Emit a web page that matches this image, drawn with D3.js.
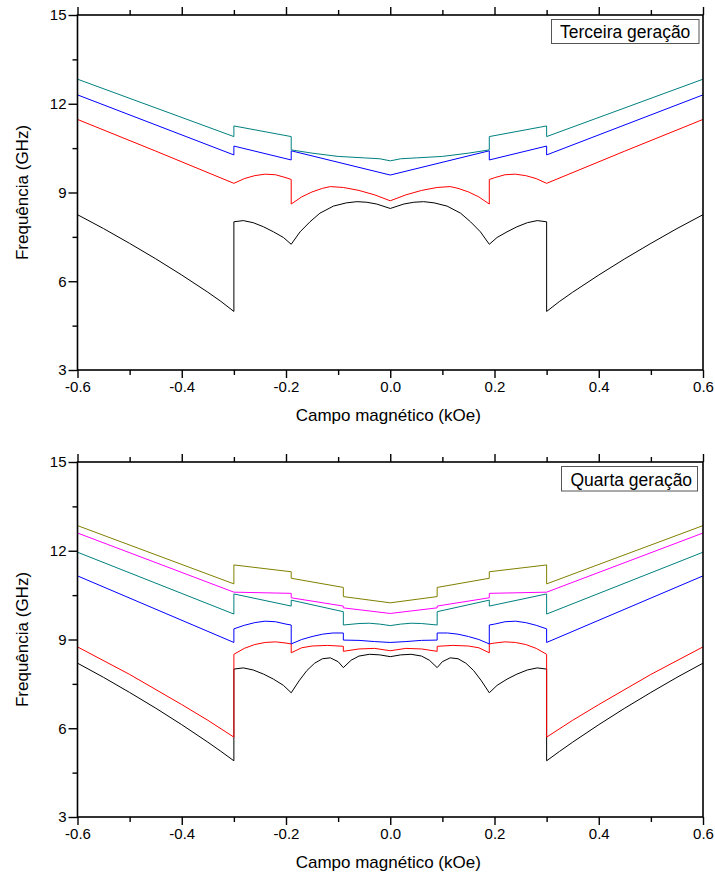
<!DOCTYPE html>
<html>
<head>
<meta charset="utf-8">
<script src="https://cdn.jsdelivr.net/npm/d3@7/dist/d3.min.js"></script>
<style>
  html, body { margin: 0; padding: 0; background: #fff; }
  svg { display: block; font-family: "Liberation Sans", Arial, sans-serif; }
</style>
</head>
<body>
<svg id="chart" width="715" height="875"></svg>
<script>
// ---------- data ----------
const xMajorTicks = [-0.6, -0.4, -0.2, 0, 0.2, 0.4, 0.6];
const xTickLabels = ["-0.6", "-0.4", "-0.2", "0.0", "0.2", "0.4", "0.6"];
const xMinorTicks = [-0.5, -0.3, -0.1, 0.1, 0.3, 0.5];
const yMajorTicks = [3, 6, 9, 12, 15];
const yTickLabels = ["3", "6", "9", "12", "15"];
const yMinorTicks = [4.5, 7.5, 10.5, 13.5];

const panelTitles = ["Terceira geração", "Quarta geração"];
const xTitle = "Campo magnético (kOe)";
const yTitle = "Frequência (GHz)";

// Terceira geração
const topBlack = [[-0.6,8.25],[-0.55,7.78],[-0.5,7.28],[-0.45,6.76],[-0.4,6.21],[-0.35,5.63],[-0.325,5.32],[-0.3,4.98],
  [-0.3,8.01],[-0.282,8.05],[-0.263,7.98],[-0.243,7.84],[-0.224,7.67],[-0.205,7.48],[-0.19,7.25],
  [-0.173,7.67],[-0.154,8.01],[-0.135,8.3],[-0.109,8.54],[-0.084,8.65],[-0.064,8.69],[-0.045,8.67],[-0.026,8.61],[0,8.46],
  [0.026,8.61],[0.045,8.67],[0.064,8.69],[0.084,8.65],[0.109,8.54],[0.135,8.3],[0.154,8.01],[0.173,7.67],
  [0.19,7.25],[0.205,7.48],[0.224,7.67],[0.243,7.84],[0.263,7.98],[0.282,8.05],[0.3,8.01],
  [0.3,4.98],[0.325,5.32],[0.35,5.63],[0.4,6.21],[0.45,6.76],[0.5,7.28],[0.55,7.78],[0.6,8.25]];
const topRed = [[-0.6,11.47],[-0.45,10.4],[-0.3,9.31],[-0.28,9.47],[-0.26,9.57],[-0.24,9.62],[-0.22,9.6],[-0.2,9.5],[-0.19,9.44],
  [-0.19,8.61],[-0.17,8.85],[-0.15,9.02],[-0.13,9.14],[-0.115,9.2],[-0.09,9.17],[-0.06,9.07],[-0.03,8.92],[0,8.72],
  [0.03,8.92],[0.06,9.07],[0.09,9.17],[0.115,9.2],[0.13,9.14],[0.15,9.02],[0.17,8.85],[0.19,8.61],
  [0.19,9.44],[0.2,9.5],[0.22,9.6],[0.24,9.62],[0.26,9.57],[0.28,9.47],[0.3,9.31],[0.45,10.4],[0.6,11.47]];
const topBlue = [[-0.6,12.3],[-0.3,10.27],[-0.3,10.57],[-0.19,10.1],[-0.19,10.41],[0,9.59],
  [0.19,10.41],[0.19,10.1],[0.3,10.57],[0.3,10.27],[0.6,12.3]];
const topTeal = [[-0.6,12.83],[-0.3,10.89],[-0.3,11.25],[-0.19,10.89],[-0.19,10.44],[-0.15,10.33],[-0.1,10.22],[-0.05,10.17],[-0.02,10.14],[0,10.07],
  [0.02,10.14],[0.05,10.17],[0.1,10.22],[0.15,10.33],[0.19,10.44],[0.19,10.89],[0.3,11.25],[0.3,10.89],[0.6,12.83]];

// Quarta geração
const botBlack = [[-0.6,8.2],[-0.55,7.72],[-0.5,7.21],[-0.45,6.68],[-0.4,6.12],[-0.35,5.53],[-0.325,5.22],[-0.3,4.9],
  [-0.3,8.0],[-0.282,8.04],[-0.263,7.97],[-0.243,7.83],[-0.224,7.66],[-0.205,7.45],[-0.19,7.2],
  [-0.175,7.6],[-0.16,7.95],[-0.145,8.2],[-0.13,8.35],[-0.115,8.38],[-0.1,8.25],[-0.09,8.05],
  [-0.075,8.3],[-0.06,8.44],[-0.04,8.5],[-0.02,8.48],[0,8.42],
  [0.02,8.48],[0.04,8.5],[0.06,8.44],[0.075,8.3],[0.09,8.05],[0.1,8.25],[0.115,8.38],[0.13,8.35],[0.145,8.2],[0.16,7.95],[0.175,7.6],
  [0.19,7.2],[0.205,7.45],[0.224,7.66],[0.243,7.83],[0.263,7.97],[0.282,8.04],[0.3,8.0],
  [0.3,4.9],[0.325,5.22],[0.35,5.53],[0.4,6.12],[0.45,6.68],[0.5,7.21],[0.55,7.72],[0.6,8.2]];
const botRed = [[-0.6,8.75],[-0.5,7.82],[-0.4,6.8],[-0.35,6.27],[-0.3,5.7],
  [-0.3,8.5],[-0.28,8.7],[-0.26,8.83],[-0.24,8.9],[-0.22,8.92],[-0.2,8.88],[-0.19,8.85],
  [-0.19,8.55],[-0.17,8.72],[-0.15,8.78],[-0.12,8.8],[-0.09,8.77],[-0.09,8.6],[-0.06,8.68],[-0.03,8.7],[0,8.62],
  [0.03,8.7],[0.06,8.68],[0.09,8.6],[0.09,8.77],[0.12,8.8],[0.15,8.78],[0.17,8.72],[0.19,8.55],
  [0.19,8.85],[0.2,8.88],[0.22,8.92],[0.24,8.9],[0.26,8.83],[0.28,8.7],[0.3,8.5],
  [0.3,5.7],[0.35,6.27],[0.4,6.8],[0.5,7.82],[0.6,8.75]];
const botBlue = [[-0.6,11.15],[-0.3,8.9],[-0.3,9.36],[-0.28,9.48],[-0.26,9.57],[-0.24,9.62],[-0.22,9.6],[-0.2,9.52],[-0.19,9.49],
  [-0.19,8.85],[-0.17,9.0],[-0.15,9.1],[-0.13,9.18],[-0.11,9.22],[-0.09,9.22],[-0.09,8.98],[-0.06,8.97],[-0.03,8.93],[0,8.9],
  [0.03,8.93],[0.06,8.97],[0.09,8.98],[0.09,9.22],[0.11,9.22],[0.13,9.18],[0.15,9.1],[0.17,9.0],[0.19,8.85],
  [0.19,9.49],[0.2,9.52],[0.22,9.6],[0.24,9.62],[0.26,9.57],[0.28,9.48],[0.3,9.36],[0.3,8.9],[0.6,11.15]];
const botTeal = [[-0.6,11.95],[-0.3,9.86],[-0.3,10.54],[-0.19,10.13],[-0.19,10.33],[-0.09,9.94],[-0.09,9.49],[-0.06,9.54],[-0.04,9.55],[-0.02,9.52],[0,9.47],
  [0.02,9.52],[0.04,9.55],[0.06,9.54],[0.09,9.49],[0.09,9.94],[0.19,10.33],[0.19,10.13],[0.3,10.54],[0.3,9.86],[0.6,11.95]];
const botMagenta = [[-0.6,12.6],[-0.3,10.6],[-0.19,10.56],[-0.19,10.41],[-0.09,10.13],[-0.09,10.07],[0,9.88],
  [0.09,10.07],[0.09,10.13],[0.19,10.41],[0.19,10.56],[0.3,10.6],[0.6,12.6]];
const botOlive = [[-0.6,12.85],[-0.3,10.88],[-0.3,11.52],[-0.19,11.29],[-0.19,11.07],[-0.09,10.76],[-0.09,10.45],[0,10.24],
  [0.09,10.45],[0.09,10.76],[0.19,11.07],[0.19,11.29],[0.3,11.52],[0.3,10.88],[0.6,12.85]];

const topSeries = [topBlack, topRed, topBlue, topTeal];
const topColors = ["#000000", "#ff0000", "#0000ff", "#008080"];
const botSeries = [botBlack, botRed, botBlue, botTeal, botMagenta, botOlive];
const botColors = ["#000000", "#ff0000", "#0000ff", "#008080", "#ff00ff", "#808000"];

// ---------- drawing ----------
const svg = d3.select("#chart");
const left = 77.5, right = 703;

const panels = [
  { top: 15, bottom: 370, series: topSeries, colors: topColors, title: panelTitles[0],
    box: [551.5, 19.5, 147.5, 24], textX: 560, textY: 38 },
  { top: 462, bottom: 817, series: botSeries, colors: botColors, title: panelTitles[1],
    box: [561.5, 466.5, 136, 24.5], textX: 570.5, textY: 485.5 }
];

panels.forEach(p => {
  const x = d3.scaleLinear().domain([-0.6, 0.6]).range([left, right]);
  const y = d3.scaleLinear().domain([3, 15]).range([p.bottom, p.top]);
  const g = svg.append("g");

  // lines
  const line = d3.line().x(d => x(d[0])).y(d => y(d[1]));
  p.series.forEach((s, i) => {
    g.append("path").datum(s)
      .attr("d", line)
      .attr("fill", "none")
      .attr("stroke", p.colors[i])
      .attr("stroke-width", 1)
      .attr("stroke-linejoin", "miter");
  });

  // frame
  g.append("rect")
    .attr("x", left).attr("y", p.top)
    .attr("width", right - left).attr("height", p.bottom - p.top)
    .attr("fill", "none").attr("stroke", "#000").attr("stroke-width", 1.6);

  const styleAxis = sel => {
    sel.select(".domain").remove();
    sel.selectAll(".tick line").attr("stroke", "#000").attr("stroke-width", 1.4);
    sel.selectAll(".tick text").attr("fill", "#000")
      .style("font-family", "'Liberation Sans', Arial, sans-serif")
      .style("font-size", "15px");
  };

  // bottom axis
  g.append("g").attr("transform", `translate(0,${p.bottom})`)
    .call(d3.axisBottom(x).tickValues(xMajorTicks).tickSize(8).tickPadding(3)
      .tickFormat((d, i) => xTickLabels[i]))
    .call(styleAxis);
  g.append("g").attr("transform", `translate(0,${p.bottom})`)
    .call(d3.axisBottom(x).tickValues(xMinorTicks).tickSize(5).tickFormat(""))
    .call(styleAxis);
  // top axis
  g.append("g").attr("transform", `translate(0,${p.top})`)
    .call(d3.axisTop(x).tickValues(xMajorTicks).tickSize(8).tickFormat(""))
    .call(styleAxis);
  g.append("g").attr("transform", `translate(0,${p.top})`)
    .call(d3.axisTop(x).tickValues(xMinorTicks).tickSize(5).tickFormat(""))
    .call(styleAxis);
  // left axis
  g.append("g").attr("transform", `translate(${left},0)`)
    .call(d3.axisLeft(y).tickValues(yMajorTicks).tickSize(9).tickPadding(2)
      .tickFormat((d, i) => yTickLabels[i]))
    .call(styleAxis);
  g.append("g").attr("transform", `translate(${left},0)`)
    .call(d3.axisLeft(y).tickValues(yMinorTicks).tickSize(5).tickFormat(""))
    .call(styleAxis);

  // axis titles
  g.append("text")
    .attr("x", (left + right) / 2 - 2).attr("y", p.bottom + 51)
    .attr("text-anchor", "middle")
    .style("font-size", "17px")
    .text(xTitle);
  g.append("text")
    .attr("transform", `translate(28,${(p.top + p.bottom) / 2}) rotate(-90)`)
    .attr("text-anchor", "middle")
    .style("font-size", "17px")
    .text(yTitle);

  // panel label box
  g.append("rect")
    .attr("x", p.box[0]).attr("y", p.box[1])
    .attr("width", p.box[2]).attr("height", p.box[3])
    .attr("fill", "#fff").attr("stroke", "#555").attr("stroke-width", 1);
  g.append("text")
    .attr("x", p.textX).attr("y", p.textY)
    .style("font-size", "17.5px")
    .text(p.title);
});
</script>
</body>
</html>
